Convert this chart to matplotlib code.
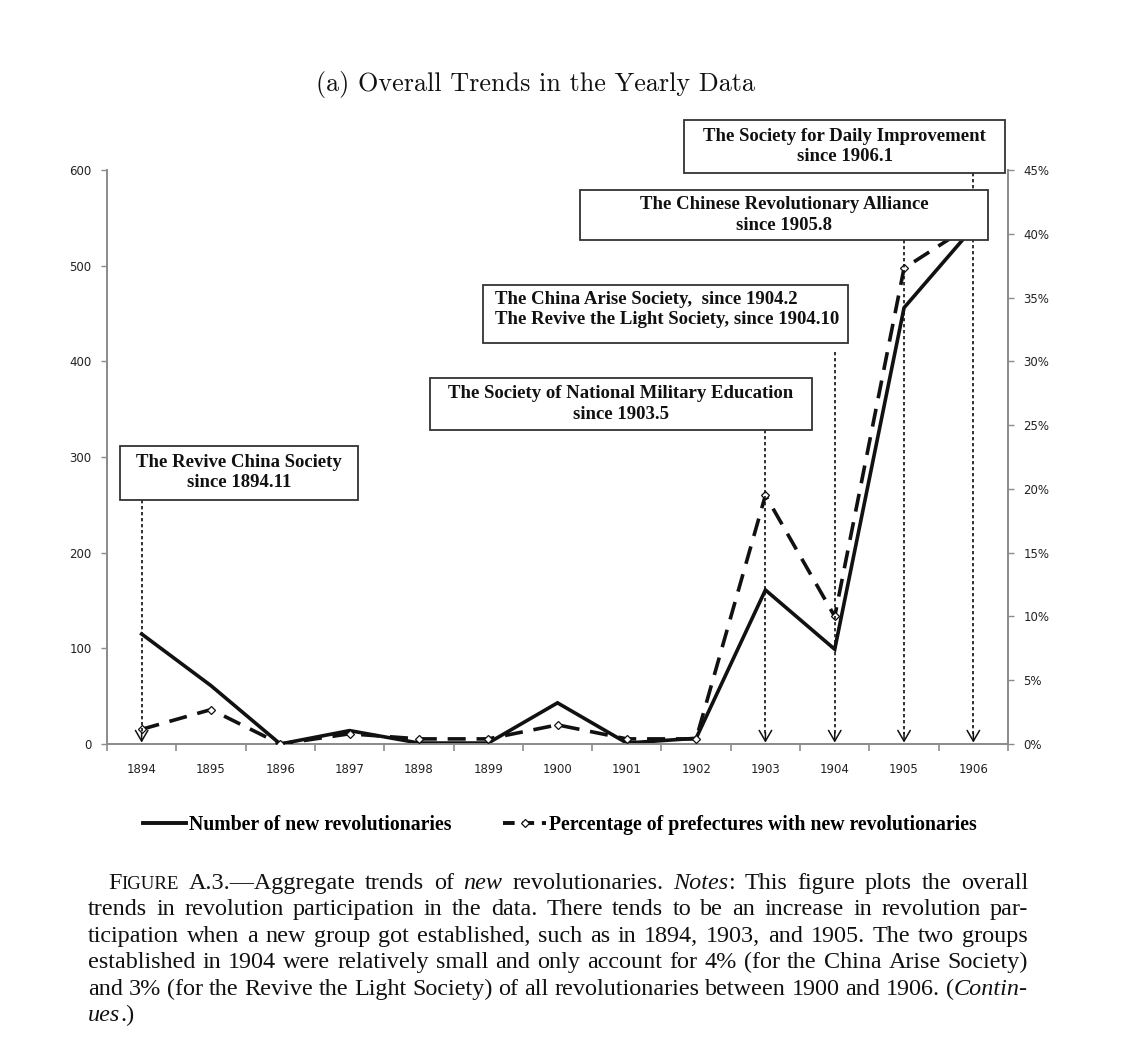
import matplotlib
matplotlib.use("Agg")
import matplotlib.pyplot as plt  # noqa: E402
from matplotlib.patches import Rectangle  # noqa: E402
from matplotlib.ticker import FuncFormatter, MultipleLocator  # noqa: E402

# data
years = ["1894", "1895", "1896", "1897", "1898", "1899", "1900",
         "1901", "1902", "1903", "1904", "1905", "1906"]
new_revs = [115, 61, 0, 14, 1, 1, 43, 1, 6, 161, 99, 456, 540]
pct_pref = [1.15, 2.7, 0.0, 0.8, 0.4, 0.4, 1.5, 0.4, 0.4, 19.5, 10.0, 37.3, 40.8]

group_labels = [
    "The Revive China Society\nsince 1894.11",
    "The Society of National Military Education\nsince 1903.5",
    "The China Arise Society,  since 1904.2\nThe Revive the Light Society, since 1904.10",
    "The Chinese Revolutionary Alliance\nsince 1905.8",
    "The Society for Daily Improvement\nsince 1906.1",
]
group_years = ["1894", "1903", "1904", "1905", "1906"]

caption = [
    "FIGURE A.3.—Aggregate trends of *new* revolutionaries. *Notes*: This figure plots the overall",
    "trends in revolution participation in the data. There tends to be an increase in revolution par-",
    "ticipation when a new group got established, such as in 1894, 1903, and 1905. The two groups",
    "established in 1904 were relatively small and only account for 4% (for the China Arise Society)",
    "and 3% (for the Revive the Light Society) of all revolutionaries between 1900 and 1906. (*Contin-*",
    "*ues*.)",
]

# layout (box extents in left-axis data units, arrow start, text alignment)
BOXES = [(-0.31, 3.12, 255, 312, "center", 255),
         (4.16, 9.67, 328, 383, "center", 328),
         (4.93, 10.19, 419, 480, "left", 410),
         (6.33, 12.21, 527, 579, "center", 527),
         (7.83, 12.46, 597, 652, "center", 597)]

INK = "#111111"
AXC = "#8c8c8c"
SERIF = ["Liberation Serif", "DejaVu Serif"]
W, H = 1142, 1060

fig = plt.figure(figsize=(W / 100, H / 100), dpi=100)
ax = fig.add_axes([107 / W, 1 - 744 / H, 901 / W, 574 / H])
ax2 = ax.twinx()

x = list(range(len(years)))
ax.plot(x, new_revs, color=INK, lw=2.6, solid_joinstyle="miter", zorder=3)
ax2.plot(x, pct_pref, color=INK, lw=2.6, dashes=(5, 3), marker="D", ms=4.5,
         mfc="white", mec=INK, mew=0.9, zorder=3)

ax.set_xlim(-0.5, len(years) - 0.5)
ax.set_ylim(0, 600)
ax2.set_ylim(0, 45)
ax.yaxis.set_major_locator(MultipleLocator(100))
ax2.yaxis.set_major_locator(MultipleLocator(5))
ax2.yaxis.set_major_formatter(FuncFormatter(lambda v, _: f"{v:.0f}%"))
ax.set_xticks(x)
ax.set_xticklabels(years)
ax.set_xticks([i - 0.5 for i in range(len(years) + 1)], minor=True)
ax.tick_params(axis="x", which="major", length=0, pad=14)
ax.tick_params(axis="x", which="minor", length=5, color=AXC, width=1.2)

for a in (ax, ax2):
    for s in a.spines.values():
        s.set_color(AXC)
        s.set_linewidth(1.3)
    a.spines["top"].set_visible(False)
    a.tick_params(axis="y", length=4, color=AXC, width=1.0, pad=7)
    for lab in a.get_yticklabels() + a.get_xticklabels():
        lab.set_fontsize(8.5)
        lab.set_color("#222222")
        lab.set_family("DejaVu Sans")

# group annotation boxes and dotted arrows
for (x0, x1, y0, y1, ha, ytop), label, yr in zip(BOXES, group_labels, group_years):
    xi = years.index(yr)
    ax2.add_patch(Rectangle((x0, y0), x1 - x0, y1 - y0, transform=ax.transData,
                            fc="white", ec="#333333", lw=1.3, clip_on=False, zorder=5))
    tx = (x0 + x1) / 2 if ha == "center" else x0 + 0.17
    ty = (y0 + y1) / 2 if ha == "center" else (y0 + y1) / 2 + 5
    ax2.text(tx, ty, label, transform=ax.transData, ha=ha, va="center",
             family=SERIF, fontweight="bold", fontsize=13.5, linespacing=1.25,
             color=INK, zorder=6, clip_on=False)
    ax2.plot([xi, xi], [ytop, 10], transform=ax.transData, color=INK, lw=1.2,
             ls=(0, (2, 1.6)), zorder=4, clip_on=False)
    ax2.annotate("", xy=(xi, 0), xytext=(xi, 12), xycoords=ax.transData,
                 textcoords=ax.transData,
                 arrowprops=dict(arrowstyle="->,head_length=0.55,head_width=0.32",
                                 lw=1.1, color=INK, mutation_scale=14,
                                 shrinkA=0, shrinkB=1), zorder=4)

# legend
h1, = ax.plot([], [], color=INK, lw=2.8)
h2, = ax.plot([], [], color=INK, lw=2.8, dashes=(3, 2), marker="D", ms=4.5,
              mfc="white", mec=INK, mew=0.9)
fig.legend([h1, h2], ["Number of new revolutionaries",
                      "Percentage of prefectures with new revolutionaries"],
           loc="center", bbox_to_anchor=(560 / W, 1 - 825 / H), ncol=2,
           frameon=False, handlelength=2.2, handletextpad=0.15,
           columnspacing=2.6, prop=dict(family=SERIF, weight="bold", size=14.2))

fig.text(535 / W, 1 - 85 / H, "(a) Overall Trends in the Yearly Data",
         family=["cmr10", "DejaVu Serif"], fontsize=18.8, ha="center", va="center",
         color=INK)

# justified caption, word by word
renderer = fig.canvas.get_renderer()
CAP_FS = 17.4


def make_word(word, italic):
    segs = []
    if word == "FIGURE":
        segs.append(("F", False, CAP_FS))
        segs.append(("IGURE", False, CAP_FS * 0.78))
        return segs, italic
    parts = word.split("*")
    for k, p in enumerate(parts):
        if k > 0:
            italic = not italic
        if p:
            segs.append((p, italic, CAP_FS))
    return segs, italic


italic = False
for li, line in enumerate(caption):
    base_y = 889 + li * 26.4
    left = 108 if li == 0 else 88
    right = 1028
    words = []
    for w in line.split(" "):
        segs, italic = make_word(w, italic)
        objs = []
        for txt, it, fs in segs:
            t = fig.text(0, 0, txt, family=SERIF, fontsize=fs,
                         style="italic" if it else "normal", va="baseline",
                         ha="left", color=INK)
            objs.append((t, t.get_window_extent(renderer).width))
        words.append(objs)
    wwidths = [sum(wd for _, wd in objs) for objs in words]
    if li < len(caption) - 1 and len(words) > 1:
        gap = (right - left - sum(wwidths)) / (len(words) - 1)
    else:
        gap = CAP_FS * 100 / 72 * 0.25
    xp = left
    for objs, ww in zip(words, wwidths):
        xs = xp
        for t, wd in objs:
            t.set_position((xs / W, 1 - base_y / H))
            xs += wd
        xp += ww + gap

fig.savefig("out.png", dpi=100)
